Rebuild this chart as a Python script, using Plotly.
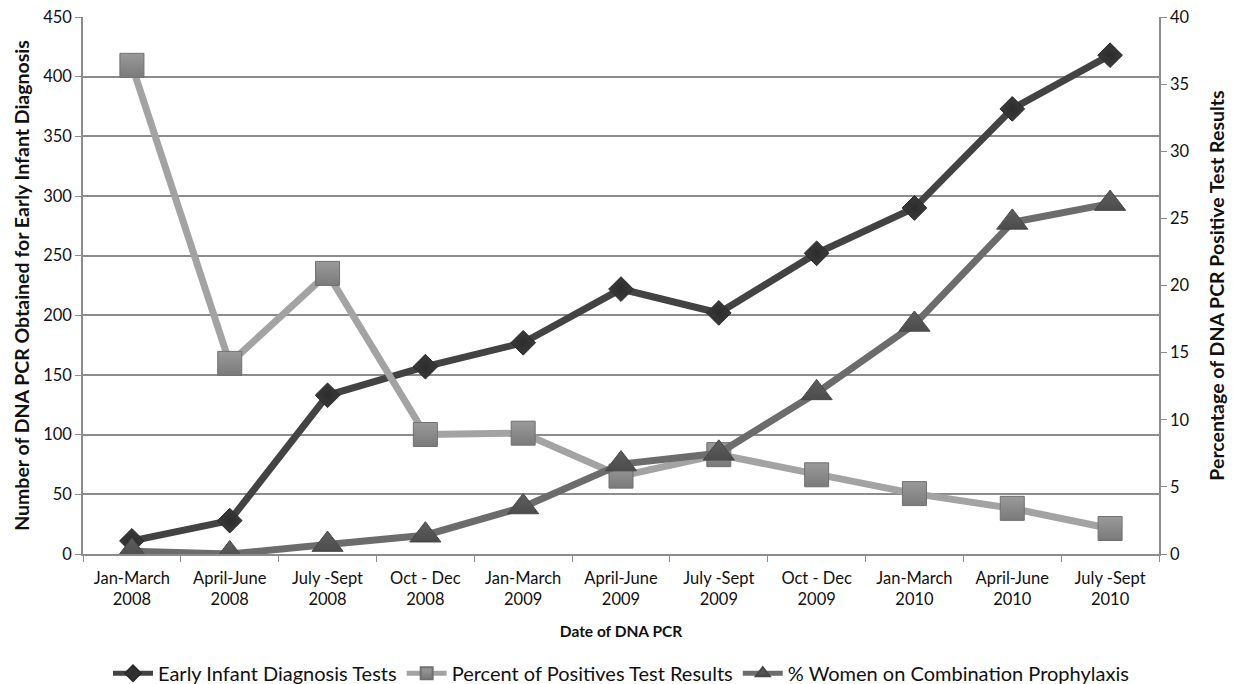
import plotly.graph_objects as go

# Quarter labels (two-line category ticks)
quarters = [
    "Jan-March<br>2008", "April-June<br>2008", "July -Sept<br>2008", "Oct - Dec<br>2008",
    "Jan-March<br>2009", "April-June<br>2009", "July -Sept<br>2009", "Oct - Dec<br>2009",
    "Jan-March<br>2010", "April-June<br>2010", "July -Sept<br>2010",
]

# Number of DNA PCR tests obtained for early infant diagnosis (left axis)
eid_tests = [11, 28, 133, 157, 177, 222, 202, 252, 290, 373, 418]

# Percent of positive test results (right axis)
pct_positive = [36.4, 14.2, 20.9, 8.9, 9.0, 5.8, 7.4, 5.9, 4.5, 3.4, 1.9]

# Percent of women on combination prophylaxis (right axis)
pct_prophylaxis = [0.2, 0.0, 0.7, 1.4, 3.5, 6.7, 7.5, 12.0, 17.1, 24.7, 26.1]

FONT = "Lato"
GRID = "#8c8c8c"
TICK_SIZE = 16.5

fig = go.Figure()

fig.add_trace(go.Scatter(
    x=quarters, y=eid_tests, name="Early Infant Diagnosis Tests",
    mode="lines+markers",
    line=dict(color="#434343", width=7),
    marker=dict(symbol="diamond", size=19, color="#3a3a3a",
                line=dict(color="#2a2a2a", width=1),
                gradient=dict(type="radial", color="#2c2c2c")),
    yaxis="y",
))

fig.add_trace(go.Scatter(
    x=quarters, y=pct_positive, name="Percent of Positives Test Results",
    mode="lines+markers",
    line=dict(color="#a3a3a3", width=7),
    marker=dict(symbol="square", size=24, color="#9a9a9a",
                line=dict(color="#707070", width=1),
                gradient=dict(type="vertical", color="#7a7a7a")),
    yaxis="y2",
))

fig.add_trace(go.Scatter(
    x=quarters, y=pct_prophylaxis, name="% Women on Combination Prophylaxis",
    mode="lines+markers",
    line=dict(color="#6c6c6c", width=7),
    marker=dict(symbol="triangle-up", size=27, color="#5e5e5e",
                line=dict(color="#484848", width=1),
                gradient=dict(type="vertical", color="#4c4c4c")),
    yaxis="y2",
))

fig.update_layout(
    width=1233, height=684,
    margin=dict(l=83, r=74, t=17, b=130, autoexpand=False),
    paper_bgcolor="white", plot_bgcolor="white",
    font=dict(family=FONT, size=TICK_SIZE, color="#111111"),
    showlegend=True,
    legend=dict(
        orientation="h", x=0.5, xanchor="center", y=-0.222, yanchor="middle",
        font=dict(family=FONT, size=20, color="#111111"),
        itemsizing="constant", itemwidth=40, traceorder="normal",
    ),
    xaxis=dict(
        type="category", range=[-0.5, 10.5],
        showline=True, linecolor=GRID, linewidth=1.5,
        ticks="outside", tickson="boundaries", ticklen=6, tickcolor=GRID,
        showgrid=False, tickfont=dict(family=FONT, size=TICK_SIZE),
        ticklabelstandoff=8,
        title=dict(text="<b>Date of DNA PCR</b>", font=dict(family=FONT, size=15.5), standoff=18),
    ),
    yaxis=dict(
        range=[0, 450], dtick=50,
        showline=True, linecolor=GRID, linewidth=1.5,
        ticks="outside", ticklen=6, tickcolor=GRID,
        showgrid=True, gridcolor=GRID, gridwidth=1.5, zeroline=False,
        tickfont=dict(family=FONT, size=TICK_SIZE),
        title=dict(text="<b>Number of DNA PCR Obtained for Early Infant Diagnosis</b>",
                   font=dict(family=FONT, size=19.5), standoff=8),
    ),
    yaxis2=dict(
        range=[0, 40], dtick=5, overlaying="y", side="right",
        showline=True, linecolor=GRID, linewidth=1.5,
        ticks="outside", ticklen=6, tickcolor=GRID,
        showgrid=False, zeroline=False,
        tickfont=dict(family=FONT, size=TICK_SIZE),
        title=dict(text="<b>Percentage of DNA PCR Positive Test Results</b>",
                   font=dict(family=FONT, size=19.5), standoff=22),
    ),
)

fig.write_html("out.html")
